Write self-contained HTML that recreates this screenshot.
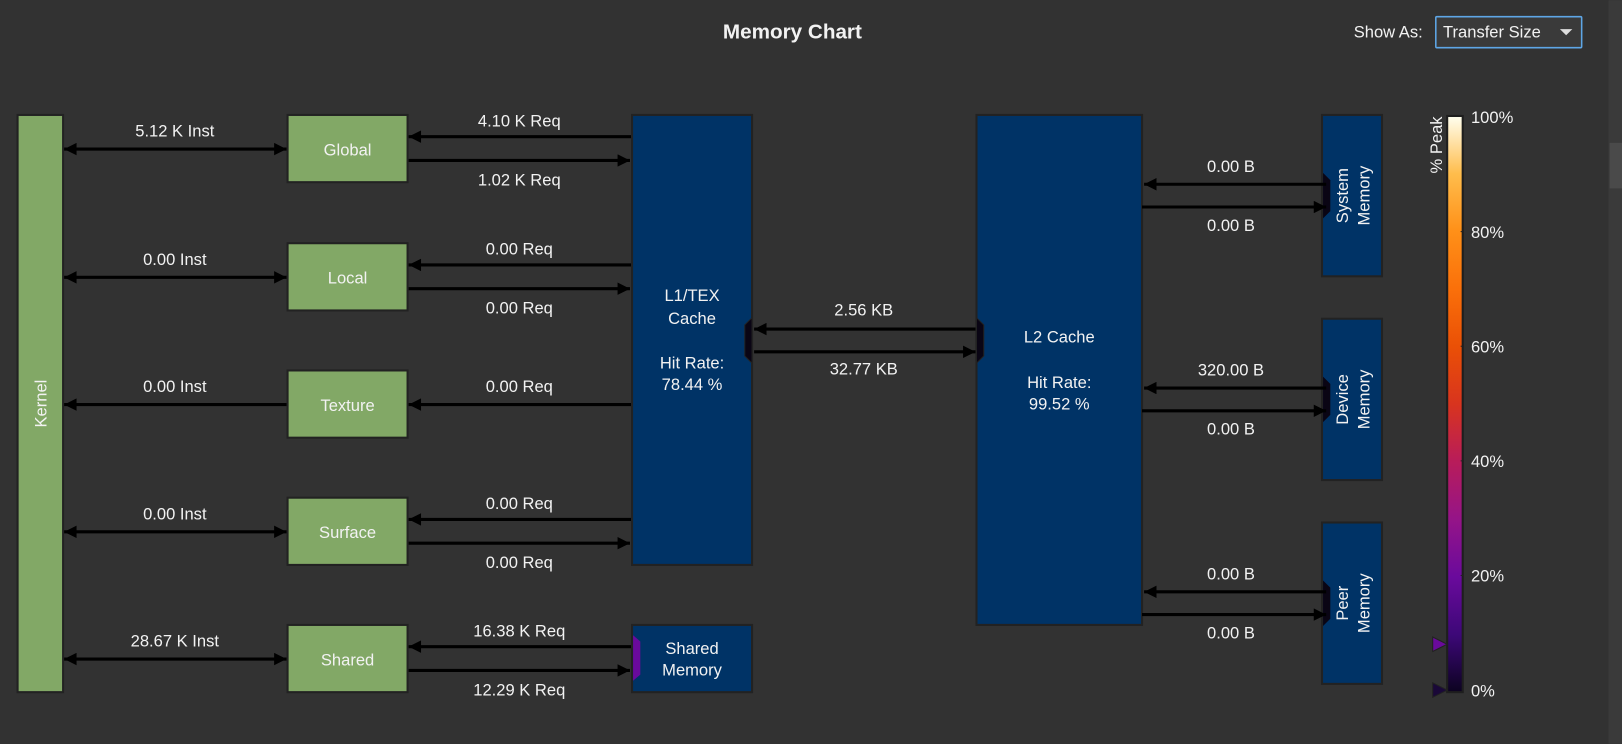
<!DOCTYPE html>
<html><head><meta charset="utf-8">
<style>
html,body{margin:0;padding:0;background:#323232;overflow:hidden}
svg{display:block;font-family:"Liberation Sans",sans-serif}
text{fill:#f2f2f2;font-size:16px}
</style></head>
<body>
<svg id="c" width="1622" height="744" viewBox="0 0 1568 719" xmlns="http://www.w3.org/2000/svg">
<defs>
<marker id="ah" viewBox="0 0 10 10" refX="10" refY="5" markerWidth="14" markerHeight="12" markerUnits="userSpaceOnUse" orient="auto-start-reverse"><path d="M0,0L10,5L0,10z" fill="#000"/></marker>
<linearGradient id="cm" x1="0" y1="1" x2="0" y2="0">
<stop offset="0" stop-color="#0c0320"/><stop offset="0.1" stop-color="#3d0878"/><stop offset="0.2" stop-color="#6a0a9c"/>
<stop offset="0.3" stop-color="#951488"/><stop offset="0.4" stop-color="#b81c5a"/><stop offset="0.5" stop-color="#d8341e"/>
<stop offset="0.6" stop-color="#ea5006"/><stop offset="0.7" stop-color="#fa700a"/><stop offset="0.8" stop-color="#ff9018"/>
<stop offset="0.9" stop-color="#ffbd4c"/><stop offset="1" stop-color="#fffff0"/></linearGradient>
</defs>
<rect width="1568" height="719" fill="#323232"/>
<text x="766" y="37" text-anchor="middle" font-weight="bold" style="font-size:20px">Memory Chart</text>
<text x="1342" y="36" text-anchor="middle">Show As:</text>
<g>
<rect x="1388" y="16" width="141" height="30" fill="#3a3a3a" stroke="#5ea6e6" stroke-width="1.5" rx="1"/>
<text x="1395" y="36">Transfer Size</text>
<path d="M1508,28L1520,28L1514,34z" fill="#ddd"/></g>
<g>
<rect x="1555" y="0" width="13" height="719" fill="#3a3a3a"/>
<rect x="1556" y="138" width="12" height="44" fill="#4a4a4a"/></g>
<g id="g"></g>
</svg>
<script>
const kernelLabels=["5.12 K Inst","0.00 Inst","0.00 Inst","0.00 Inst","28.67 K Inst"];
const unitNames=["Global","Local","Texture","Surface","Shared"];
const reqIn=["4.10 K Req","0.00 Req","0.00 Req","0.00 Req","16.38 K Req"];
const reqOut=["1.02 K Req","0.00 Req",null,"0.00 Req","12.29 K Req"];
const l1l2=["2.56 KB","32.77 KB"];
const memNames=[["System","Memory"],["Device","Memory"],["Peer","Memory"]];
const memIn=["0.00 B","320.00 B","0.00 B"];
const memOut=["0.00 B","0.00 B","0.00 B"];
const l1Hit="78.44 %";
const l2Hit="99.52 %";
const peakTicks=[0,20,40,60,80,100];
const markerPcts=[8,0];
const g=document.getElementById('g');
const NS="http://www.w3.org/2000/svg";
function el(t,a,txt){const e=document.createElementNS(NS,t);for(const k in a)e.setAttribute(k,a[k]);if(txt!=null)e.textContent=txt;g.appendChild(e);return e;}
function line(x1,y1,x2,y2,start,end){const a={x1,y1,x2,y2,stroke:"#000","stroke-width":3};if(end)a["marker-end"]="url(#ah)";if(start)a["marker-start"]="url(#ah)";return el('line',a);}
// kernel
let k=el('rect',{x:17,y:111,width:44,height:558,fill:"#82a866",stroke:"#222","stroke-width":2});

let kt=el('text',{x:39,y:396,"text-anchor":"middle",transform:"rotate(-90 39 390)"},"Kernel");

const tops=[111,235,358,481,604];
unitNames.forEach((n,i)=>{
 const y=tops[i],cy=y+33;
 const r=el('rect',{x:278,y:y,width:116,height:65,fill:"#82a866",stroke:"#222","stroke-width":2});
 
 const t=el('text',{x:336,y:cy+6,"text-anchor":"middle"},n);
 
 const ka=line(62,cy,277,cy,n!=="Texture",true);
 if(n==="Texture"){ka.removeAttribute('marker-end');ka.setAttribute('marker-start','url(#ah)');}
 
 const kl=el('text',{x:169,y:cy-12,"text-anchor":"middle"},kernelLabels[i]);
 
 if(n==="Texture"){
  const a=line(395,cy,611,cy,true,false);
  
  const l=el('text',{x:502,y:cy-12,"text-anchor":"middle"},reqIn[i]);
  
 } else {
  const a1=line(395,y+21,611,y+21,true,false);
  
  const a2=line(395,y+44,609,y+44,false,true);
  
  const l1=el('text',{x:502,y:y+11,"text-anchor":"middle"},reqIn[i]);
  
  const l2=el('text',{x:502,y:y+68,"text-anchor":"middle"},reqOut[i]);
  
 }
});
// L1
let l1=el('rect',{x:611,y:111,width:116,height:435,fill:"#003366",stroke:"#222","stroke-width":2});

[["L1/TEX",291],["Cache",313],["Hit Rate:",356],[l1Hit,377]].forEach((p,i)=>{const t=el('text',{x:669,y:p[1],"text-anchor":"middle"},p[0]);});
// shared memory
let sm=el('rect',{x:611,y:604,width:116,height:65,fill:"#003366",stroke:"#222","stroke-width":2});

el('path',{d:"M612,614L619,620L619,652L612,658z",fill:"#6a0a9c"});
[["Shared",632],["Memory",653]].forEach((p,i)=>{const t=el('text',{x:669,y:p[1],"text-anchor":"middle"},p[0]);});
// L2
let l2=el('rect',{x:944,y:111,width:160,height:493,fill:"#003366",stroke:"#222","stroke-width":2});

[["L2 Cache",331],["Hit Rate:",375],[l2Hit,396]].forEach((p,i)=>{const t=el('text',{x:1024,y:p[1],"text-anchor":"middle"},p[0]);});
// ports
el('path',{d:"M727,307L720,314L720,344L727,351z",fill:"#0a0514",stroke:"#222"});
el('path',{d:"M944,307L951,314L951,344L944,351z",fill:"#0a0514",stroke:"#222"});
let la=line(729,318,943,318,true,false);
let lb=line(729,340,943,340,false,true);
let t1=el('text',{x:835,y:305,"text-anchor":"middle"},l1l2[0]);
let t2=el('text',{x:835,y:362,"text-anchor":"middle"},l1l2[1]);
// memories
const mtops=[111,308,505];
memNames.forEach((n,i)=>{
 const y=mtops[i],key=n[0].toLowerCase();
 const r=el('rect',{x:1278,y:y,width:58,height:156,fill:"#003366",stroke:"#222","stroke-width":2});
 
 el('path',{d:`M1279,${y+56}L1286,${y+63}L1286,${y+93}L1279,${y+100}z`,fill:"#0a0514"});
 const cx=1307,cy=y+78;
 const t=el('text',{x:cx,y:cy,"text-anchor":"middle",transform:`rotate(-90 ${cx} ${cy})`});
 
 const s1=document.createElementNS(NS,'tspan');s1.setAttribute('x',cx);s1.setAttribute('dy','-4');s1.textContent=n[0];t.appendChild(s1);
 const s2=document.createElementNS(NS,'tspan');s2.setAttribute('x',cx);s2.setAttribute('dy','21');s2.textContent=n[1];t.appendChild(s2);
 const a1=line(1106,y+67,1282,y+67,true,false);
 const a2=line(1104,y+89,1282,y+89,false,true);
 const l1=el('text',{x:1190,y:y+55,"text-anchor":"middle"},memIn[i]);
 const l2=el('text',{x:1190,y:y+112,"text-anchor":"middle"},memOut[i]);
});
// colorbar
const cbTop=113,cbBot=667;
function py(p){return cbBot-(cbBot-cbTop)*p/100;}
let cb=el('rect',{x:1399,y:cbTop-1,width:15,height:cbBot-cbTop+3,fill:"url(#cm)",stroke:"#1e1e1e","stroke-width":2});

let pk=el('text',{x:1388,y:146,"text-anchor":"middle",transform:"rotate(-90 1388 140)"},"% Peak");

peakTicks.forEach(p=>{
 const y=py(p);
 if(p>0&&p<100)el('line',{x1:1412,x2:1415,y1:y,y2:y,stroke:"#222","stroke-width":1});
 const t=el('text',{x:1422,y:y+6},p+"%");
 
});
markerPcts.forEach((p,i)=>{
 const y=py(p);
 const m=el('path',{d:`M1385,${y-7}L1399,${y}L1385,${y+7}z`,fill:i?"#1a0838":"#6a0a9c",stroke:"#222"});
 
});
</script>
</body></html>
